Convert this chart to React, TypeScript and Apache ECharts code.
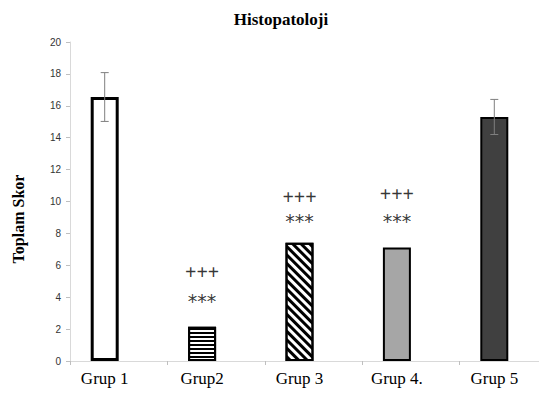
import React, { useEffect, useRef } from "react";
import * as echarts from "echarts";

const categories = ["Grup 1", "Grup2", "Grup 3", "Grup 4.", "Grup 5"];
const means = [16.55, 2.15, 7.42, 7.12, 15.3];
const errors = [1.53, 0, 0, 0, 1.1];
const plusMarks = ["", "+++", "+++", "+++", ""];
const starMarks = ["", "***", "***", "***", ""];
const plusLevel = [null, 5.6, 10.3, 10.47, null];
const starLevel = [null, 3.75, 8.75, 8.8, null];
const yTicks = { min: 0, max: 20, interval: 2 };

const BAR_W = 28;
const OFFSET = -BAR_W / 2;
const SERIF = '"Liberation Serif", "Times New Roman", serif';
const SANS = '"Liberation Sans", Arial, sans-serif';

const barStyles = [
  { color: "#ffffff", borderColor: "#000", borderWidth: 3 },
  {
    color: "#ffffff",
    borderColor: "#000",
    borderWidth: 2,
    decal: { symbol: "rect", symbolSize: 1, dashArrayX: [1, 0], dashArrayY: [2, 2], rotation: 0, color: "#000" },
  },
  {
    color: "#ffffff",
    borderColor: "#000",
    borderWidth: 2,
    decal: { symbol: "rect", symbolSize: 1, dashArrayX: [1, 0], dashArrayY: [3, 3], rotation: Math.PI / 4, color: "#000" },
  },
  { color: "#a6a6a6", borderColor: "#000", borderWidth: 2 },
  { color: "#404040", borderColor: "#000", borderWidth: 2 },
];

export default function App() {
  const ref = useRef<HTMLDivElement>(null);
  useEffect(() => {
    const chart = echarts.init(ref.current!, null, { renderer: "svg" });
    const markSeries = (
      marks: string[],
      levels: (number | null)[],
      font: { fontFamily: string; fontSize: number; fontWeight: string }
    ) => ({
      type: "scatter",
      data: levels.map((v) => (v == null ? "-" : v)),
      symbolSize: 0.1,
      itemStyle: { color: "transparent" },
      silent: true,
      label: {
        show: true,
        position: "inside",
        offset: [OFFSET, 0],
        formatter: (p: any) => marks[p.dataIndex],
        ...font,
        color: "#000",
        textBorderWidth: 0,
      },
      z: 5,
    });
    chart.setOption({
      animation: false,
      title: {
        text: "Histopatoloji",
        left: 276,
        textAlign: "center",
        top: 6,
        textStyle: { fontFamily: SERIF, fontWeight: "bold", fontSize: 17, color: "#000" },
      },
      grid: { left: 70, width: 487, top: 42, bottom: 33, outerBoundsMode: "none", containLabel: false },
      xAxis: {
        type: "category",
        data: categories,
        axisLine: { lineStyle: { color: "#d9d9d9", width: 1 } },
        axisTick: { show: true, length: 4, lineStyle: { color: "#bfbfbf" } },
        axisLabel: {
          fontFamily: SERIF,
          fontSize: 17,
          color: "#000",
          margin: 9,
          padding: [0, BAR_W, 0, 0],
        },
      },
      yAxis: {
        type: "value",
        min: yTicks.min,
        max: yTicks.max,
        interval: yTicks.interval,
        splitLine: { show: false },
        axisLine: { show: true, lineStyle: { color: "#d9d9d9" } },
        axisTick: { show: true, length: 4, lineStyle: { color: "#bfbfbf" } },
        axisLabel: { fontFamily: SANS, fontSize: 10, color: "#333", margin: 9 },
      },
      graphic: [
        {
          type: "text",
          x: 18,
          y: 219,
          rotation: Math.PI / 2,
          style: {
            text: "Toplam Skor",
            fontFamily: SERIF,
            fontWeight: "bold",
            fontSize: 16,
            fill: "#000",
            align: "center",
            verticalAlign: "middle",
          },
        },
      ],
      series: [
        {
          type: "bar",
          barWidth: BAR_W,
          barGap: "0%",
          data: means.map((v, i) => ({ value: v, itemStyle: barStyles[i] })),
        },
        { type: "bar", barWidth: BAR_W, data: means.map(() => "-") },
        {
          type: "custom",
          data: means.map((m, i) => [i, m - errors[i], m + errors[i], errors[i]]),
          renderItem: (params: any, api: any) => {
            if (api.value(3) <= 0) return null;
            const lo = api.coord([api.value(0), api.value(1)]);
            const hi = api.coord([api.value(0), api.value(2)]);
            const x = lo[0] + OFFSET;
            const style = { stroke: "#7f7f7f", lineWidth: 1 };
            return {
              type: "group",
              children: [
                { type: "line", shape: { x1: x, y1: lo[1], x2: x, y2: hi[1] }, style },
                { type: "line", shape: { x1: x - 4, y1: lo[1], x2: x + 4, y2: lo[1] }, style },
                { type: "line", shape: { x1: x - 4, y1: hi[1], x2: x + 4, y2: hi[1] }, style },
              ],
            };
          },
          z: 4,
        },
        markSeries(plusMarks, plusLevel, { fontFamily: SERIF, fontSize: 20, fontWeight: "bold" }),
        markSeries(starMarks, starLevel, { fontFamily: '"DejaVu Sans", sans-serif', fontSize: 19, fontWeight: "normal" }),
      ],
    });
    return () => chart.dispose();
  }, []);
  return <div ref={ref} style={{ width: 539, height: 394, position: "absolute", left: 0, top: 0 }} />;
}
